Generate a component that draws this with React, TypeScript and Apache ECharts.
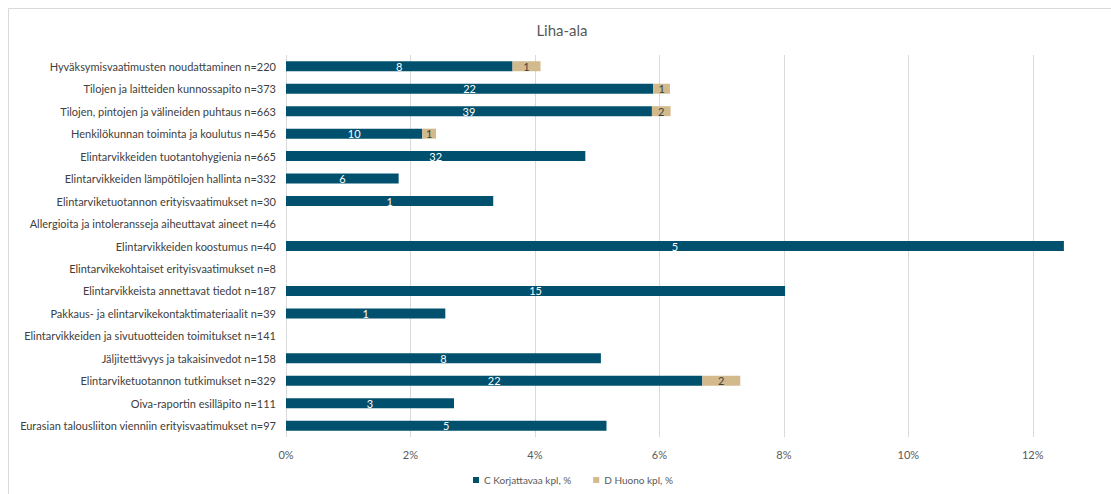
import React, { useEffect, useRef } from "react";
import * as echarts from "echarts";

const categories = [
  "Hyväksymisvaatimusten noudattaminen n=220",
  "Tilojen ja laitteiden kunnossapito n=373",
  "Tilojen, pintojen ja välineiden puhtaus n=663",
  "Henkilökunnan toiminta ja koulutus n=456",
  "Elintarvikkeiden tuotantohygienia n=665",
  "Elintarvikkeiden lämpötilojen hallinta n=332",
  "Elintarviketuotannon erityisvaatimukset n=30",
  "Allergioita ja intoleransseja aiheuttavat aineet n=46",
  "Elintarvikkeiden koostumus n=40",
  "Elintarvikekohtaiset erityisvaatimukset n=8",
  "Elintarvikkeista annettavat tiedot n=187",
  "Pakkaus- ja elintarvikekontaktimateriaalit n=39",
  "Elintarvikkeiden ja sivutuotteiden toimitukset n=141",
  "Jäljitettävyys ja takaisinvedot n=158",
  "Elintarviketuotannon tutkimukset n=329",
  "Oiva-raportin esilläpito n=111",
  "Eurasian talousliiton vienniin erityisvaatimukset n=97",
];

const korjattavaaPct = [3.64, 5.9, 5.88, 2.19, 4.81, 1.81, 3.33, 0, 12.5, 0, 8.02, 2.56, 0, 5.06, 6.69, 2.7, 5.15];
const korjattavaaKpl = [8, 22, 39, 10, 32, 6, 1, 0, 5, 0, 15, 1, 0, 8, 22, 3, 5];
const huonoPct = [0.45, 0.27, 0.3, 0.22, 0, 0, 0, 0, 0, 0, 0, 0, 0, 0, 0.61, 0, 0];
const huonoKpl = [1, 1, 2, 1, 0, 0, 0, 0, 0, 0, 0, 0, 0, 0, 2, 0, 0];

const xTicks = [0, 2, 4, 6, 8, 10, 12];

const FONT = "Lato, 'Open Sans', sans-serif";

export default function App() {
  const ref = useRef<HTMLDivElement>(null);
  useEffect(() => {
    if (!ref.current) return;
    const chart = echarts.init(ref.current, undefined, { renderer: "svg" });
    chart.setOption({
      animation: false,
      textStyle: { fontFamily: FONT },
      title: {
        text: "Liha-ala",
        left: 557,
        textAlign: "center",
        top: 17,
        textStyle: { fontFamily: FONT, fontSize: 15, fontWeight: "normal", color: "#595959" },
      },
      graphic: [
        {
          type: "rect",
          shape: { x: 8.5, y: 8.5, width: 1300, height: 700 },
          style: { fill: "none", stroke: "#D9D9D9", lineWidth: 1 },
          silent: true,
        },
      ],
      legend: {
        bottom: 4,
        left: 468,
        itemWidth: 6,
        itemHeight: 6,
        itemGap: 22,
        icon: "rect",
        textStyle: { fontFamily: FONT, fontSize: 10, color: "#595959" },
        data: ["C Korjattavaa kpl, %", "D Huono kpl, %"],
      },
      grid: { left: 286, right: 16, top: 55, bottom: 57, containLabel: false },
      xAxis: {
        type: "value",
        min: 0,
        max: 13,
        interval: 2,
        axisLine: { show: false },
        axisTick: { show: false },
        splitLine: { show: true, showMaxLine: false, lineStyle: { color: "#D9D9D9", width: 1 } },
        axisLabel: {
          showMaxLabel: false,
          margin: 12,
          fontFamily: FONT,
          fontSize: 11,
          color: "#595959",
          formatter: (v: number) => (xTicks.includes(v) ? v + "%" : ""),
        },
      },
      yAxis: {
        type: "category",
        inverse: true,
        data: categories,
        axisLine: { show: false },
        axisTick: { show: false },
        axisLabel: { fontFamily: FONT, fontSize: 11, color: "#404040", margin: 10 },
      },
      series: [
        {
          name: "C Korjattavaa kpl, %",
          type: "bar",
          stack: "total",
          barWidth: 10,
          itemStyle: { color: "#00506E" },
          data: korjattavaaPct.map((v) => (v > 0 ? v : "-")),
          label: {
            show: true,
            position: "inside",
            color: "#FFFFFF",
            fontFamily: FONT,
            fontSize: 11,
            formatter: (p: any) => (korjattavaaKpl[p.dataIndex] ? String(korjattavaaKpl[p.dataIndex]) : ""),
          },
        },
        {
          name: "D Huono kpl, %",
          type: "bar",
          stack: "total",
          barWidth: 10,
          itemStyle: { color: "#D2BA8C" },
          data: huonoPct.map((v) => (v > 0 ? v : "-")),
          label: {
            show: true,
            position: "inside",
            color: "#404040",
            fontFamily: FONT,
            fontSize: 11,
            formatter: (p: any) => (huonoKpl[p.dataIndex] ? String(huonoKpl[p.dataIndex]) : ""),
          },
        },
      ],
    });
    return () => chart.dispose();
  }, []);
  return <div ref={ref} style={{ position: "fixed", left: 0, top: 0, width: 1111, height: 494, background: "#fff" }} />;
}
